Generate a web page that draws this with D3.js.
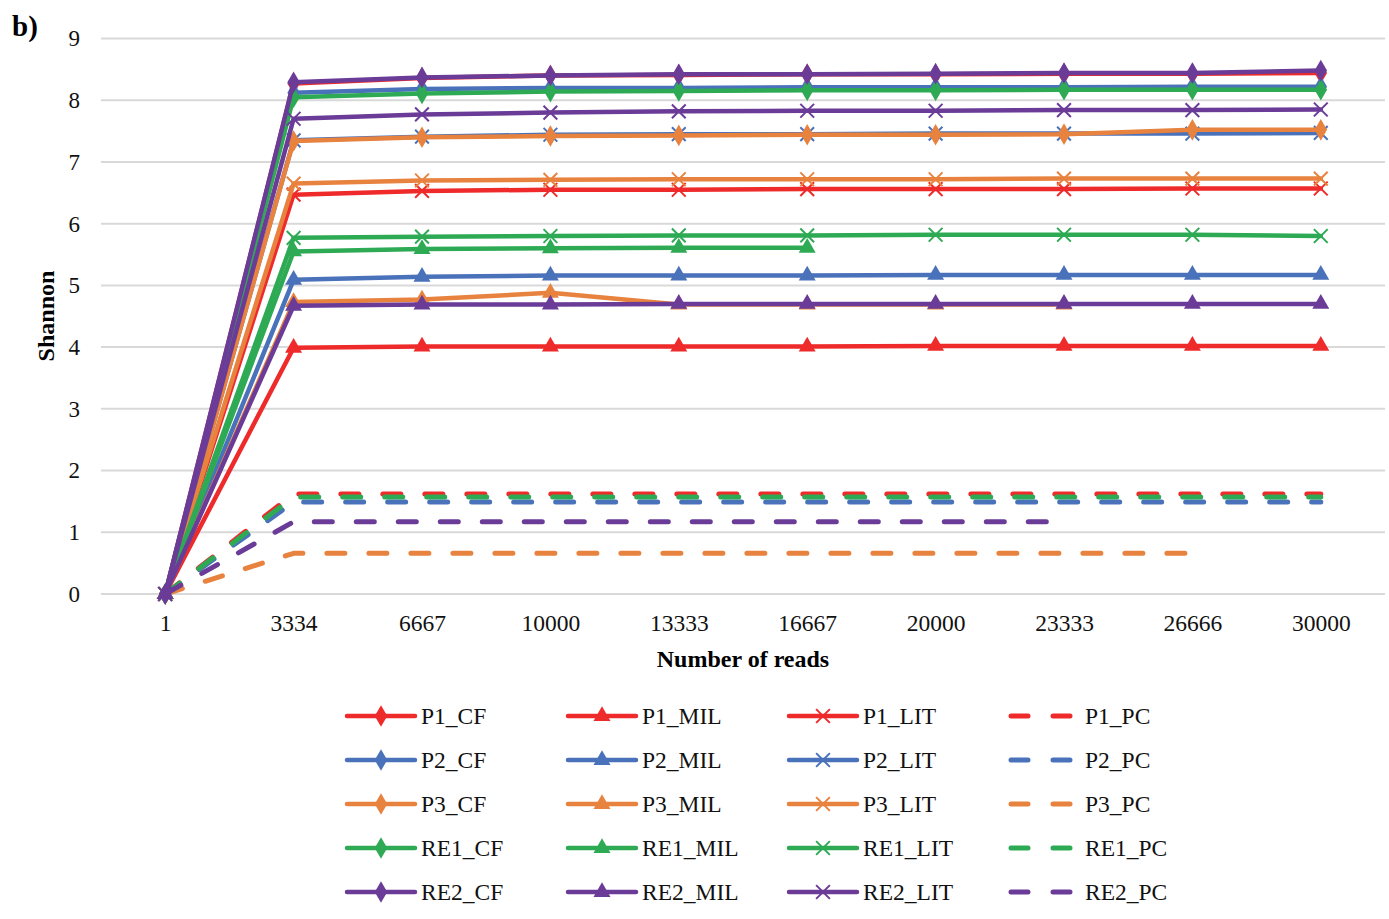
<!DOCTYPE html>
<html>
<head>
<meta charset="utf-8">
<script src="https://cdn.jsdelivr.net/npm/d3@7"></script>
<style>
  body { margin: 0; background: #fff; }
  svg { display: block; font-family: "Liberation Serif", "Times New Roman", serif; }
  svg text { font-family: "Liberation Serif", "Times New Roman", serif; }
</style>
</head>
<body>
<svg id="chart" width="1389" height="919"></svg>
<script>
const categories = ['1', '3334', '6667', '10000', '13333', '16667', '20000', '23333', '26666', '30000'];
const yTicks = [0, 1, 2, 3, 4, 5, 6, 7, 8, 9];

// Shannon values per sample, null where the series stops
const p1CF  = [0, 8.27, 8.36, 8.40, 8.41, 8.42, 8.42, 8.43, 8.43, 8.44];
const p1MIL = [0, 3.99, 4.01, 4.01, 4.01, 4.01, 4.02, 4.02, 4.02, 4.02];
const p1LIT = [0, 6.47, 6.53, 6.55, 6.55, 6.56, 6.56, 6.56, 6.57, 6.57];
const p1PC  = [0, 1.62, 1.62, 1.62, 1.62, 1.62, 1.62, 1.62, 1.62, 1.62];
const p2CF  = [0, 8.12, 8.18, 8.20, 8.20, 8.21, 8.21, 8.21, 8.22, 8.22];
const p2MIL = [0, 5.09, 5.14, 5.16, 5.16, 5.16, 5.17, 5.17, 5.17, 5.17];
const p2LIT = [0, 7.35, 7.41, 7.44, 7.45, 7.45, 7.46, 7.46, 7.46, 7.47];
const p2PC  = [0, 1.49, 1.49, 1.49, 1.49, 1.49, 1.49, 1.49, 1.49, 1.49];
const p3CF  = [0, 7.34, 7.40, 7.42, 7.43, 7.44, 7.44, 7.45, 7.52, 7.52];
const p3MIL = [0, 4.73, 4.77, 4.88, 4.69, 4.69, 4.69, 4.69, null, null];
const p3LIT = [0, 6.65, 6.70, 6.71, 6.72, 6.72, 6.72, 6.73, 6.73, 6.73];
const p3PC  = [0, 0.66, 0.66, 0.66, 0.66, 0.66, 0.66, 0.66, 0.66, null];
const re1CF  = [0, 8.05, 8.11, 8.14, 8.15, 8.16, 8.16, 8.17, 8.17, 8.17];
const re1MIL = [0, 5.55, 5.59, 5.60, 5.61, 5.61, null, null, null, null];
const re1LIT = [0, 5.77, 5.79, 5.80, 5.81, 5.81, 5.82, 5.82, 5.82, 5.80];
const re1PC  = [0, 1.57, 1.57, 1.57, 1.57, 1.57, 1.57, 1.57, 1.57, 1.57];
const re2CF  = [0, 8.29, 8.37, 8.40, 8.42, 8.42, 8.43, 8.44, 8.44, 8.48];
const re2MIL = [0, 4.67, 4.69, 4.69, 4.70, 4.70, 4.70, 4.70, 4.70, 4.70];
const re2LIT = [0, 7.70, 7.77, 7.80, 7.82, 7.83, 7.83, 7.84, 7.84, 7.85];
const re2PC  = [0, 1.17, 1.17, 1.17, 1.17, 1.17, 1.17, 1.17, null, null];

const groups = ['P1', 'P2', 'P3', 'RE1', 'RE2'];
const kinds = ['CF', 'MIL', 'LIT', 'PC'];
const groupColors = ['#ee2a2a', '#4a72ba', '#e8823f', '#2eaa55', '#6b3b98'];
const valuesByName = {
  P1_CF: p1CF, P1_MIL: p1MIL, P1_LIT: p1LIT, P1_PC: p1PC,
  P2_CF: p2CF, P2_MIL: p2MIL, P2_LIT: p2LIT, P2_PC: p2PC,
  P3_CF: p3CF, P3_MIL: p3MIL, P3_LIT: p3LIT, P3_PC: p3PC,
  RE1_CF: re1CF, RE1_MIL: re1MIL, RE1_LIT: re1LIT, RE1_PC: re1PC,
  RE2_CF: re2CF, RE2_MIL: re2MIL, RE2_LIT: re2LIT, RE2_PC: re2PC,
};

const series = [];
groups.forEach((g, gi) => {
  kinds.forEach((k) => {
    const name = `${g}_${k}`;
    series.push({ name, group: g, kind: k, color: groupColors[gi], values: valuesByName[name] });
  });
});

const svg = d3.select('#chart');
const plot = { left: 101, right: 1385, top: 38.5, bottom: 594 };
const FONT = '"Liberation Serif", "Times New Roman", serif';

const x = d3.scalePoint().domain(categories).range([plot.left, plot.right]).padding(0.5);
const y = d3.scaleLinear().domain([0, 9]).range([plot.bottom, plot.top]);

// gridlines
svg.append('g')
  .selectAll('line')
  .data(yTicks)
  .enter()
  .append('line')
  .attr('x1', plot.left)
  .attr('x2', plot.right)
  .attr('y1', (d) => y(d))
  .attr('y2', (d) => y(d))
  .attr('stroke', '#d9d9d9')
  .attr('stroke-width', 2);

const yAxis = d3.axisLeft(y).tickValues(yTicks).tickSize(0).tickPadding(0);
const gy = svg.append('g').attr('transform', `translate(80,0)`).call(yAxis);
gy.attr('font-family', FONT).attr('font-size', null);
gy.select('.domain').remove();
gy.selectAll('text').style('font-size', '23px').style('font-family', FONT).attr('fill', '#111').attr('dy', '0.32em');

const xAxis = d3.axisBottom(x).tickSize(0).tickPadding(0);
const gx = svg.append('g').attr('transform', `translate(0,614)`).call(xAxis);
gx.attr('font-family', FONT).attr('font-size', null);
gx.select('.domain').remove();
gx.selectAll('text').style('font-size', '23.5px').style('font-family', FONT).attr('fill', '#111');

svg.append('text')
  .attr('x', 743)
  .attr('y', 667)
  .attr('text-anchor', 'middle')
  .style('font-size', '24px')
  .style('font-weight', 'bold')
  .text('Number of reads');

svg.append('text')
  .attr('transform', 'translate(54,316) rotate(-90)')
  .attr('text-anchor', 'middle')
  .style('font-size', '24px')
  .style('font-weight', 'bold')
  .text('Shannon');

svg.append('text')
  .attr('x', 12)
  .attr('y', 36)
  .style('font-size', '29px')
  .style('font-weight', 'bold')
  .text('b)');

const diamond = d3.symbol().type(d3.symbolDiamond).size(135);
const triangle = d3.symbol().type(d3.symbolTriangle).size(125);
const cross = d3.symbol().type(d3.symbolX).size(125);

function drawMarker(sel, kind, color) {
  if (kind === 'PC') return;
  if (kind === 'LIT') {
    sel.append('path').attr('d', cross()).attr('fill', 'none').attr('stroke', color).attr('stroke-width', 2);
  } else {
    sel.append('path').attr('d', kind === 'CF' ? diamond() : triangle()).attr('fill', color);
  }
}

const line = d3.line()
  .defined((d) => d.v !== null)
  .x((d) => x(d.c))
  .y((d) => y(d.v));

const seriesG = svg.append('g');
series.forEach((s) => {
  const pts = categories.map((c, i) => ({ c, v: s.values[i] }));
  const g = seriesG.append('g');
  const path = g.append('path')
    .datum(pts)
    .attr('d', line)
    .attr('fill', 'none')
    .attr('stroke', s.color)
    .attr('stroke-width', s.kind === 'PC' ? 5 : 4.5)
    .attr('stroke-linejoin', 'round')
    .attr('stroke-linecap', 'round');
  if (s.kind === 'PC') path.attr('stroke-dasharray', '18,24');
  pts.filter((d) => d.v !== null).forEach((d) => {
    const m = g.append('g').attr('transform', `translate(${x(d.c)},${y(d.v)})`);
    drawMarker(m, s.kind, s.color);
  });
});

// legend
const legCols = [345, 566, 787, 1008];
const legend = svg.append('g');
series.forEach((s, i) => {
  const row = Math.floor(i / 4);
  const col = i % 4;
  const lx = legCols[col];
  const ly = 716 + row * 44;
  const item = legend.append('g').attr('transform', `translate(${lx},${ly})`);
  if (s.kind === 'PC') {
    item.append('line')
      .attr('x1', 3).attr('x2', 64).attr('y1', 0).attr('y2', 0)
      .attr('stroke', s.color).attr('stroke-width', 5)
      .attr('stroke-linecap', 'round')
      .attr('stroke-dasharray', '17,25');
    item.append('text').attr('x', 77).attr('y', 0).attr('dy', '0.35em')
      .style('font-size', '23.5px').attr('fill', '#111').text(s.name);
  } else {
    item.append('line')
      .attr('x1', 2).attr('x2', 70).attr('y1', 0).attr('y2', 0)
      .attr('stroke', s.color).attr('stroke-width', 4.5)
      .attr('stroke-linecap', 'round');
    const m = item.append('g').attr('transform', 'translate(36,0)');
    drawMarker(m, s.kind, s.color);
    item.append('text').attr('x', 76).attr('y', 0).attr('dy', '0.35em')
      .style('font-size', '23.5px').attr('fill', '#111').text(s.name);
  }
});
</script>
</body>
</html>
